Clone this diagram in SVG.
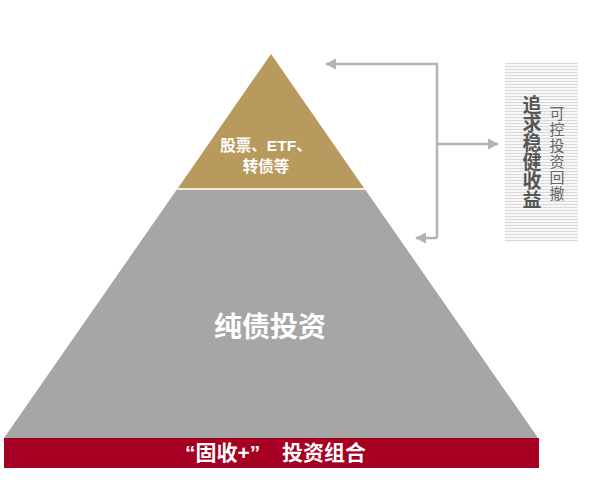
<svg xmlns="http://www.w3.org/2000/svg" width="605" height="491" viewBox="0 0 605 491">
<defs>
<style>
.t{font-family:"Liberation Sans","Noto Sans CJK SC",sans-serif;font-weight:bold;fill:#ffffff;text-anchor:middle}
.s{font-family:"Liberation Sans","Noto Sans CJK SC",sans-serif;font-weight:bold;fill:#ffffff;text-anchor:start}
.v{font-family:"Noto Sans CJK SC",sans-serif;text-anchor:middle}
.c{fill:none;stroke:#b3b3b3;stroke-width:2.5}
</style>
<marker id="ah" viewBox="0 0 10 10" refX="9" refY="5" markerWidth="4.5" markerHeight="4.5" orient="auto" markerUnits="strokeWidth">
<path d="M0,0 L10,5 L0,10 z" fill="#b3b3b3"/>
</marker>
<pattern id="stripes" width="4" height="3" patternUnits="userSpaceOnUse">
<rect width="4" height="3" fill="#f7f7f7"/>
<rect width="4" height="1" fill="#d9d9d9"/>
</pattern>
</defs>
<rect width="605" height="491" fill="#ffffff"/>
<g id="top">
<polygon points="271,54 364,188 178,188" fill="#b99a5e"/>
<rect x="176" y="188" width="190" height="2" fill="#f3ecd8"/>
<text class="t" x="266" y="151" font-size="15.5">股票、ETF、</text>
<text class="t" x="266" y="172" font-size="15.5">转债等</text>
</g>
<g id="middle">
<polygon points="176.5,190 365.5,190 538,438 4,438" fill="#a6a6a6"/>
<text class="t" x="270" y="337" font-size="28">纯债投资</text>
</g>
<g id="base">
<rect x="4" y="438" width="535" height="30" fill="#a50021"/>
<text class="s" x="185" y="460" font-size="21">“固收+”</text>
<text class="s" x="282" y="460" font-size="21">投资组合</text>
</g>
<g id="goal">
<rect x="505" y="63" width="73" height="179" fill="url(#stripes)"/>
<g class="v" font-size="19" font-weight="bold" fill="#555555">
<text x="532" y="112">追</text>
<text x="532" y="131">求</text>
<text x="532" y="150">稳</text>
<text x="532" y="169">健</text>
<text x="532" y="188">收</text>
<text x="532" y="207">益</text>
</g>
<g class="v" font-size="15" fill="#666666">
<text x="557" y="119">可</text>
<text x="557" y="135">控</text>
<text x="557" y="151">投</text>
<text x="557" y="167">资</text>
<text x="557" y="183">回</text>
<text x="557" y="199">撤</text>
</g>
</g>
<g id="connectors">
<polyline class="c" points="437,238 437,64 326,64" marker-end="url(#ah)"/>
<polyline class="c" points="437,238 416,238" marker-end="url(#ah)"/>
<polyline class="c" points="437,144 498,144" marker-end="url(#ah)"/>
</g>
</svg>
